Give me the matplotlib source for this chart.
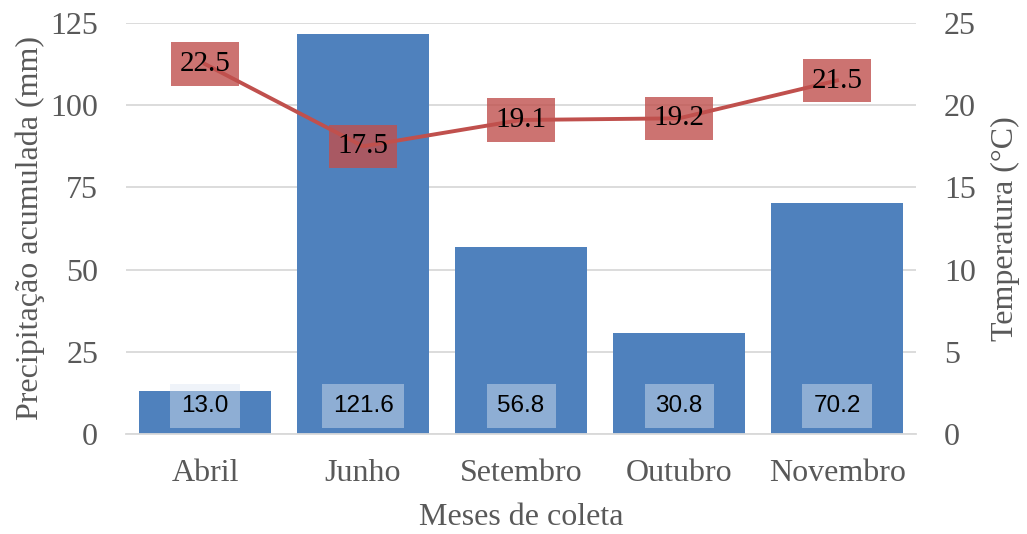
import matplotlib
matplotlib.use("Agg")
import matplotlib.pyplot as plt
import numpy as np

meses = ["Abril", "Junho", "Setembro", "Outubro", "Novembro"]
precipitacao = [13.0, 121.6, 56.8, 30.8, 70.2]
temperatura = [22.5, 17.5, 19.1, 19.2, 21.5]
ticks_prec = [0, 25, 50, 75, 100, 125]
ticks_temp = [0, 5, 10, 15, 20, 25]

serif = "Liberation Serif"
gray = "#595959"
grid = "#d9d9d9"
bar_color = "#4f81bd"
line_color = "#c0504d"
fs = 23

fig = plt.figure(figsize=(10.27, 5.34), dpi=100)
ax = fig.add_axes([0.1227, 0.1873, 0.7693, 0.7697])
ax2 = ax.twinx()

x = np.arange(len(meses))
ax.bar(x, precipitacao, width=0.835, color=bar_color, zorder=2)
ax.set_xlim(-0.5, len(meses) - 0.5)
ax.set_ylim(0, 125)
ax.set_yticks(ticks_prec)
ax.yaxis.grid(True, color=grid, linewidth=1.3, zorder=0)
ax.set_axisbelow(True)
for s in ["top", "right", "left"]:
    ax.spines[s].set_visible(False)
ax.spines["bottom"].set_color(grid)
ax.spines["bottom"].set_linewidth(1.3)
ax.tick_params(axis="y", length=0, labelsize=fs, labelcolor=gray, pad=20)
ax.tick_params(axis="x", length=0, labelsize=fs, labelcolor=gray, pad=18)
ax.set_xticks(x)
ax.set_xticklabels(meses, fontfamily=serif)
for lbl in ax.get_yticklabels():
    lbl.set_fontfamily(serif)
ax.set_ylabel("Precipitação acumulada (mm)", fontfamily=serif, fontsize=fs,
              color=gray, va="center")
ax.yaxis.set_label_coords(-0.1215, 0.5)
ax.set_xlabel("Meses de coleta", fontfamily=serif, fontsize=fs, color=gray,
              va="center")
ax.xaxis.set_label_coords(0.5, -0.2044)

# value labels at the foot of each bar
for xi, v in zip(x, precipitacao):
    ax.text(xi, 8.5, f"{v:.1f}", ha="center", va="center", fontsize=17.5,
            fontfamily="Liberation Sans", color="black", zorder=4,
            bbox=dict(boxstyle="square,pad=0.45", facecolor="#dce6f2",
                      edgecolor="none", alpha=0.45))

ax2.plot(x, temperatura, color=line_color, linewidth=2.8, zorder=3)
ax2.set_ylim(0, 25)
ax2.set_yticks(ticks_temp)
for s in ["top", "right", "left", "bottom"]:
    ax2.spines[s].set_visible(False)
ax2.tick_params(axis="y", length=0, labelsize=fs, labelcolor=gray, pad=20)
for lbl in ax2.get_yticklabels():
    lbl.set_fontfamily(serif)
ax2.set_ylabel("Temperatura (°C)", fontfamily=serif, fontsize=fs, color=gray,
               va="center", rotation=90)
ax2.yaxis.set_label_coords(1.1127, 0.5)

for xi, t in zip(x, temperatura):
    ax2.text(xi, t, f"{t:.1f}", ha="center", va="center", fontsize=21,
             fontfamily=serif, color="black", zorder=5,
             bbox=dict(boxstyle="square,pad=0.3", facecolor=line_color,
                       edgecolor="none", alpha=0.8))

fig.savefig("out.png", dpi=100)
